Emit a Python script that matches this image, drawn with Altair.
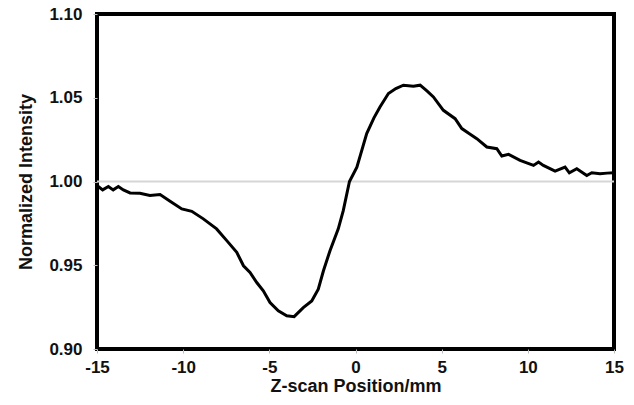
import altair as alt
import pandas as pd

z_mm = [-15.0, -14.67, -14.34, -14.06, -13.76, -13.47, -13.08, -12.51, -11.93, -11.34,
        -10.76, -10.08, -9.50, -8.83, -8.06, -7.47, -6.89, -6.50, -6.12, -5.73,
        -5.35, -4.96, -4.48, -3.99, -3.56, -3.03, -2.54, -2.16, -1.86, -1.48,
        -1.00, -0.71, -0.35, 0.08, 0.65, 1.07, 1.42, 1.91, 2.34, 2.78,
        3.36, 3.75, 4.16, 4.52, 5.10, 5.78, 6.17, 6.59, 7.04, 7.62,
        8.20, 8.49, 8.88, 9.55, 10.33, 10.62, 10.90, 11.58, 12.16, 12.41,
        12.84, 13.42, 13.71, 14.19, 14.60, 15.0]
intensity = [0.9976, 0.9950, 0.9970, 0.9950, 0.9970, 0.9950, 0.9932, 0.9930, 0.9916, 0.9922,
             0.9882, 0.9836, 0.9822, 0.9777, 0.9717, 0.9647, 0.9577, 0.9497, 0.9457, 0.9397,
             0.9347, 0.9277, 0.9228, 0.9198, 0.9193, 0.9247, 0.9287, 0.9357, 0.9467, 0.9587,
             0.9717, 0.9826, 1.0000, 1.0086, 1.0286, 1.0380, 1.0445, 1.0525, 1.0555, 1.0575,
             1.0569, 1.0575, 1.0540, 1.0505, 1.0425, 1.0375, 1.0316, 1.0286, 1.0256, 1.0206,
             1.0196, 1.0152, 1.0162, 1.0126, 1.0096, 1.0116, 1.0096, 1.0062, 1.0086, 1.0052,
             1.0076, 1.0036, 1.0052, 1.0046, 1.0050, 1.0052]
ref_level = [1.0]
x_ticks = [-15, -10, -5, 0, 5, 10, 15]
y_ticks = [0.90, 0.95, 1.00, 1.05, 1.10]

df = pd.DataFrame({"z": z_mm, "I": intensity})
ref = pd.DataFrame({"y": ref_level})

FONT = "Liberation Sans"
xs = alt.Scale(domain=[-15, 15], nice=False, zero=False)
ys = alt.Scale(domain=[0.90, 1.10], nice=False, zero=False)

refline = alt.Chart(ref).mark_rule(color="#d6d6d6", strokeWidth=2).encode(
    y=alt.Y("y:Q", scale=ys)
)

line = alt.Chart(df).mark_line(color="black", strokeWidth=3, interpolate="linear").encode(
    x=alt.X("z:Q", scale=xs, title="Z-scan Position/mm",
            axis=alt.Axis(values=x_ticks, labelExpr="'' + datum.value", labelFlush=False,
                          labelPadding=6, titlePadding=2)),
    y=alt.Y("I:Q", scale=ys, title="Normalized Intensity",
            axis=alt.Axis(values=y_ticks, format=".2f", labelFlush=False,
                          labelPadding=11, titlePadding=13)),
)

chart = alt.layer(refline, line).properties(
    width=517, height=335,
    padding={"left": 89, "top": 6, "right": 10, "bottom": 48},
    autosize=alt.AutoSizeParams(type="none"),
).configure_view(
    stroke="black", strokeWidth=4
).configure_axis(
    domain=False, grid=False, ticks=True, tickColor="#bbbbbb", tickSize=4,
    labelFont=FONT, labelFontSize=17, labelFontWeight="bold", labelColor="#111111",
    titleFont=FONT, titleFontSize=18, titleFontWeight="bold", titleColor="#111111",
)

chart.save("out.html", embed_options={"renderer": "svg", "actions": False})
